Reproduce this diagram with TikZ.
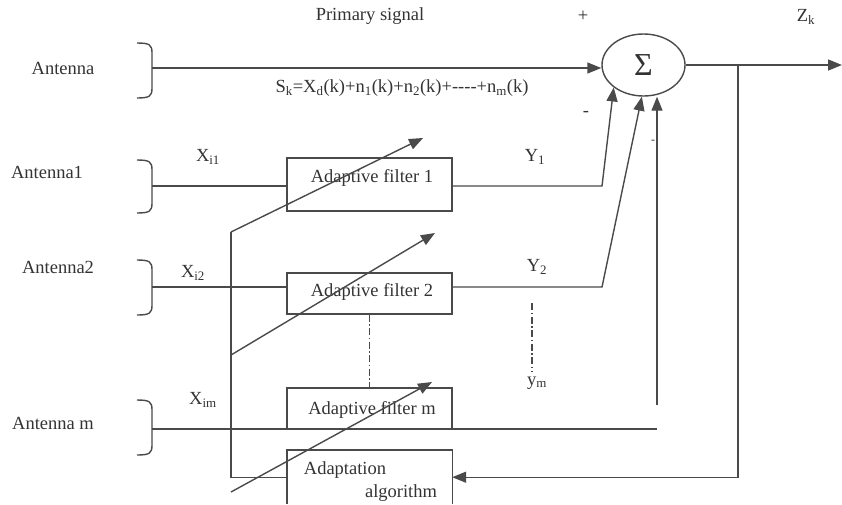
\documentclass[tikz,border=0pt]{standalone}
\usepackage{fontspec}
\setmainfont{Liberation Serif}
\usetikzlibrary{arrows.meta,shapes.geometric}
\definecolor{ln}{HTML}{4A4A4A}
\definecolor{tx}{HTML}{333333}
\begin{document}
\begin{tikzpicture}[x=1pt,y=-1pt,
  line/.style={draw=ln,line width=1.4pt},
  arr/.style={line,-{Triangle[length=14pt,width=11pt]}},
  box/.style={draw=ln,line width=1.4pt,minimum width=165pt,inner sep=0pt},
  lbl/.style={text=tx,font=\fontsize{18.5}{20}\selectfont,inner sep=0pt},
  dd/.style={draw=ln,line width=1.1pt,dash pattern=on 7pt off 2.5pt on 1.5pt off 2.5pt}
]
\useasboundingbox (0,0) rectangle (842,504);

% summing junction
\node[ellipse,draw=ln,line width=1.4pt,minimum width=83pt,minimum height=62pt,inner sep=0pt,text=tx,font=\fontsize{32}{32}\selectfont] (sum) at (643.5,65) {Σ};

% boxes
\node[box,minimum height=53pt] (f1) at (369.5,184.5) {};
\node[box,minimum height=41pt] (f2) at (369.5,293.5) {};
\node[box,minimum height=41pt] (fm) at (369.5,408.5) {};
\node[minimum width=165pt,minimum height=54pt,inner sep=0pt,anchor=north] (ad) at (369.5,450) {};
\draw[line] (ad.south west) -- (ad.north west) -- (ad.north east) -- (ad.south east);

% box texts
\node[lbl] (t1) at (372,178) {Adaptive filter 1};
\node[lbl] (t2) at (372,292) {Adaptive filter 2};
\node[lbl] (tm) at (372,410) {Adaptive filter m};
\node[lbl] (tad1) at (345,470) {Adaptation};
\node[lbl] (tad2) at (401,493) {algorithm};

% brackets
\draw[line] (137,43) .. controls (150,43) and (152,45) .. (152,53) -- (152,88) .. controls (152,96) and (150,98) .. (137,98);
\draw[line] (137,160) .. controls (150,160) and (152,162) .. (152,170) -- (152,203) .. controls (152,211) and (150,213) .. (137,213);
\draw[line] (137,260) .. controls (150,260) and (152,262) .. (152,270) -- (152,305) .. controls (152,313) and (150,315) .. (137,315);
\draw[line] (137,400) .. controls (150,400) and (152,402) .. (152,410) -- (152,445) .. controls (152,453) and (150,455) .. (137,455);

\coordinate (a0) at (152,68);
\coordinate (a1) at (152,186);
\coordinate (a2) at (152,287);
\coordinate (am) at (152,429);
\coordinate (amend) at (657,429);
\coordinate (y1k) at (602,186);
\coordinate (y2k) at (602,287);
\coordinate (v3) at (657,405);
\coordinate (fb) at (738,65);
\coordinate (out) at (842,65);
\coordinate (s1) at (231,232);
\coordinate (s2) at (231,355);
\coordinate (s3) at (231,492);
\coordinate (tip1) at (423,138);
\coordinate (tip2) at (435,233);
\coordinate (tip3) at (432,382);
\coordinate (d2a) at (532,303);
\coordinate (d2b) at (532,372);

% signal lines
\draw[arr] (a0) -- (a0 -| sum.west);
\draw[line] (a1) -- (f1.west |- a1);
\draw[line] (a2) -- (f2.west |- a2);
\draw[line] (am) -- (amend);
\draw[arr] (f1.east |- a1) -- (y1k) -- (sum.217);
\draw[arr] (f2.east |- a2) -- (y2k) -- (sum.267);
\draw[arr] (v3) -- (v3 |- sum.south);
\draw[arr] (sum.east) -- (out);
\draw[arr] (fb) |- (ad.east);

% adaptation lines
\draw[line] (ad.west) -| (s1);
\draw[arr] (s1) -- (tip1);
\draw[arr] (s2) -- (tip2);
\draw[arr] (s3) -- (tip3);

% dash-dot
\draw[dd] (f2.south) -- (fm.north);
\draw[dd] (d2a) -- (d2b);

% labels
\node[lbl] (lps) at (370,16) {Primary signal};
\node[lbl] (lplus) at (583,16) {+};
\node[lbl] (lz) at (806,17) {Z\textsubscript{k}};
\node[lbl] (lant) at (63,68) {Antenna};
\node[lbl] (lsk) at (402,88) {S\textsubscript{k}=X\textsubscript{d}(k)+n\textsubscript{1}(k)+n\textsubscript{2}(k)+{-}{-}{-}{-}+n\textsubscript{m}(k)};
\node[lbl] (lmin) at (586,114) {-};
\node[lbl,font=\fontsize{12}{12}\selectfont] (lmin2) at (653,142) {-};
\node[lbl] (lant1) at (47,172) {Antenna1};
\node[lbl] (lx1) at (208,157) {X\textsubscript{i1}};
\node[lbl] (ly1) at (535,157) {Y\textsubscript{1}};
\node[lbl] (lant2) at (58,267) {Antenna2};
\node[lbl] (lx2) at (193,273) {X\textsubscript{i2}};
\node[lbl] (ly2) at (537,267) {Y\textsubscript{2}};
\node[lbl] (lym) at (537,383) {y\textsubscript{m}};
\node[lbl] (lxm) at (203,400) {X\textsubscript{im}};
\node[lbl] (lantm) at (53,423) {Antenna m};
\end{tikzpicture}
\end{document}
